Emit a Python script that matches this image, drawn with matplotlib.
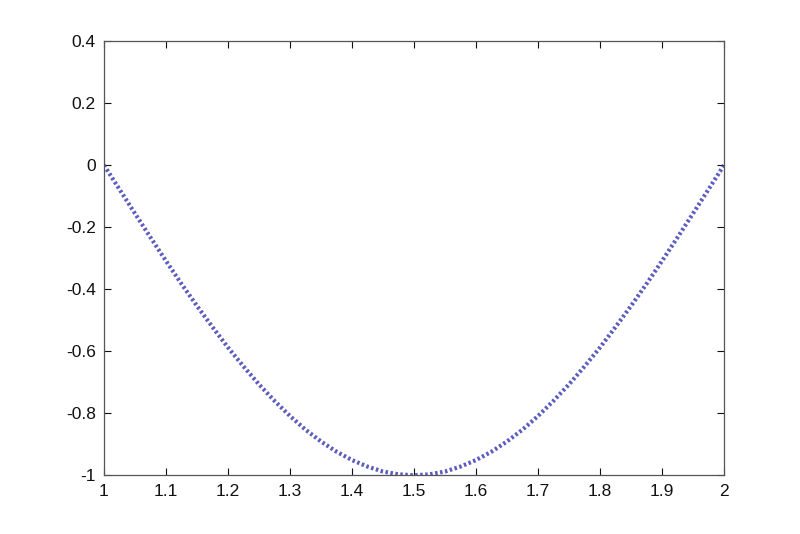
import numpy as np
import matplotlib.pyplot as plt

# values
x_vals = [1.000, 1.025, 1.050, 1.075, 1.100, 1.125, 1.150, 1.175, 1.200, 1.225,
          1.250, 1.275, 1.300, 1.325, 1.350, 1.375, 1.400, 1.425, 1.450, 1.475,
          1.500, 1.525, 1.550, 1.575, 1.600, 1.625, 1.650, 1.675, 1.700, 1.725,
          1.750, 1.775, 1.800, 1.825, 1.850, 1.875, 1.900, 1.925, 1.950, 1.975,
          2.000]
y_vals = [0.000, -0.078, -0.156, -0.233, -0.309, -0.383, -0.454, -0.522, -0.588, -0.649,
          -0.707, -0.760, -0.809, -0.853, -0.891, -0.924, -0.951, -0.972, -0.988, -0.997,
          -1.000, -0.997, -0.988, -0.972, -0.951, -0.924, -0.891, -0.853, -0.809, -0.760,
          -0.707, -0.649, -0.588, -0.522, -0.454, -0.383, -0.309, -0.233, -0.156, -0.078,
          0.000]

x_ticks = [1, 1.1, 1.2, 1.3, 1.4, 1.5, 1.6, 1.7, 1.8, 1.9, 2]
x_labels = ["1", "1.1", "1.2", "1.3", "1.4", "1.5", "1.6", "1.7", "1.8", "1.9", "2"]
y_ticks = [-1, -0.8, -0.6, -0.4, -0.2, 0, 0.2, 0.4]
y_labels = ["-1", "-0.8", "-0.6", "-0.4", "-0.2", "0", "0.2", "0.4"]

plt.rcParams['font.family'] = ['Liberation Sans', 'DejaVu Sans']

fig = plt.figure(figsize=(8, 5.34), dpi=100)
ax = fig.add_axes([0.13, 0.11, 0.775, 0.813])

ax.plot(x_vals, y_vals, color="#3333b0", linestyle=(0, (0.6, 0.6)), linewidth=3.0, alpha=0.8)

ax.set_xlim(1, 2)
ax.set_ylim(-1, 0.4)
ax.set_xticks(x_ticks)
ax.set_xticklabels(x_labels)
ax.set_yticks(y_ticks)
ax.set_yticklabels(y_labels)

ax.tick_params(direction="in", top=True, right=True, length=5, width=0.8,
               labelsize=12.5, colors="#111111", pad=6)
for s in ax.spines.values():
    s.set_color("#555555")
    s.set_linewidth(0.9)

fig.savefig("out.png", dpi=100)
